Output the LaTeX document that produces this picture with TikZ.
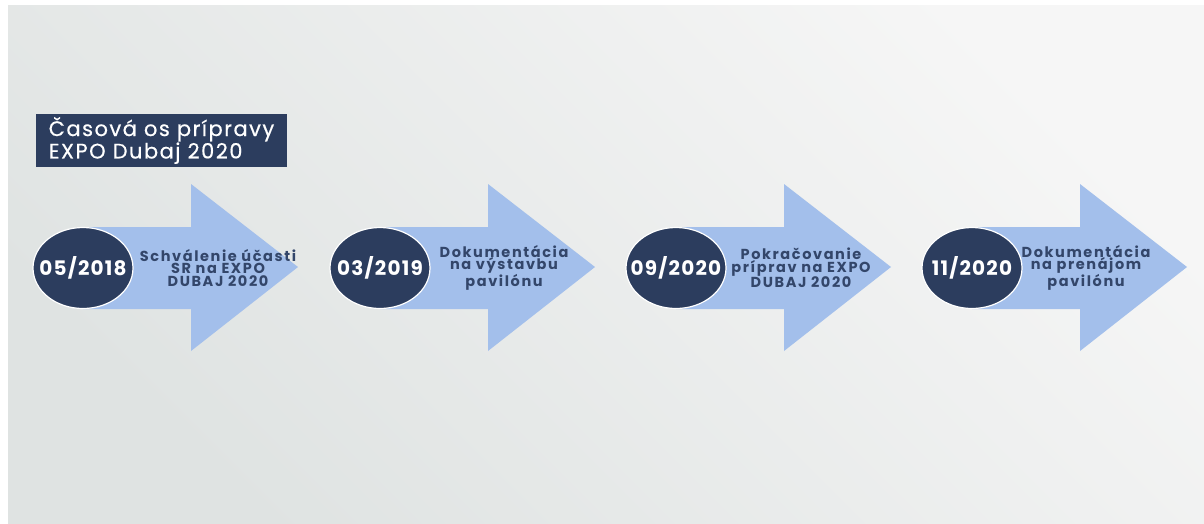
\documentclass[tikz,border=0pt]{standalone}
\usepackage{fontspec}
\setmainfont{Poppins}
\newfontfamily\titlefont{Poppins}[LetterSpace=7, FakeBold=0.5]
\newfontfamily\datefont{Poppins}[LetterSpace=6]
\newfontfamily\labelfont{Poppins}[LetterSpace=11]
\usetikzlibrary{shapes.geometric}
\definecolor{navy}{HTML}{2C3D5E}
\definecolor{arrowblue}{HTML}{A3BFEB}
\definecolor{labelnavy}{HTML}{33466A}
\definecolor{bgdark}{HTML}{DFE3E2}
\definecolor{bglight}{HTML}{F6F6F6}
\tikzset{
  titlebox/.style={fill=navy, text=white, minimum width=251pt, minimum height=53pt,
    inner sep=0pt, align=left, font=\titlefont\fontsize{21}{18.5}\selectfont},
  datecircle/.style={ellipse, fill=navy, draw=white, line width=1.2pt,
    minimum width=100pt, minimum height=81pt, inner sep=0pt},
  datetext/.style={text=white, inner sep=0pt,
    font=\datefont\bfseries\fontsize{20}{20}\selectfont},
  arrowbody/.style={fill=arrowblue, draw=none},
  steplabel/.style={text=labelnavy, align=center, inner sep=0pt,
    font=\labelfont\bfseries\fontsize{14.5}{12.7}\selectfont}
}
\newcommand{\timeitem}[5]{%
  \fill[arrowbody] (#1,227) -- (#1+108,227) -- (#1+108,184) -- (#1+215,267)
    -- (#1+108,351) -- (#1+108,309) -- (#1,309) -- cycle;
  \node[datecircle] (#2) at (#1,268) {};
  \node[datetext] (#2date) at (#2.center) {#3};
  \node[steplabel] (#2label) at (#5,268) {#4};
}
\begin{document}
\begin{tikzpicture}[x=1pt,y=-1pt]
  \useasboundingbox (0,0) rectangle (1204,523);
  \fill[white] (0,0) rectangle (1204,523);
  \shade[bottom color=bgdark, top color=bglight, shading angle=-45] (8,5) rectangle (1204,523);
  \node[titlebox] (title) at (161.5,140.5) {Časová os prípravy\\EXPO Dubaj 2020};
  \timeitem{83}{d1}{05/2018}{Schválenie účasti\\SR na EXPO\\DUBAJ 2020}{218}
  \timeitem{380}{d2}{03/2019}{Dokumentácia\\na výstavbu\\pavilónu}{504}
  \timeitem{676}{d3}{09/2020}{Pokračovanie\\príprav na EXPO\\DUBAJ 2020}{801}
  \timeitem{972}{d4}{11/2020}{Dokumentácia\\na prenájom\\pavilónu}{1086}
\end{tikzpicture}
\end{document}
